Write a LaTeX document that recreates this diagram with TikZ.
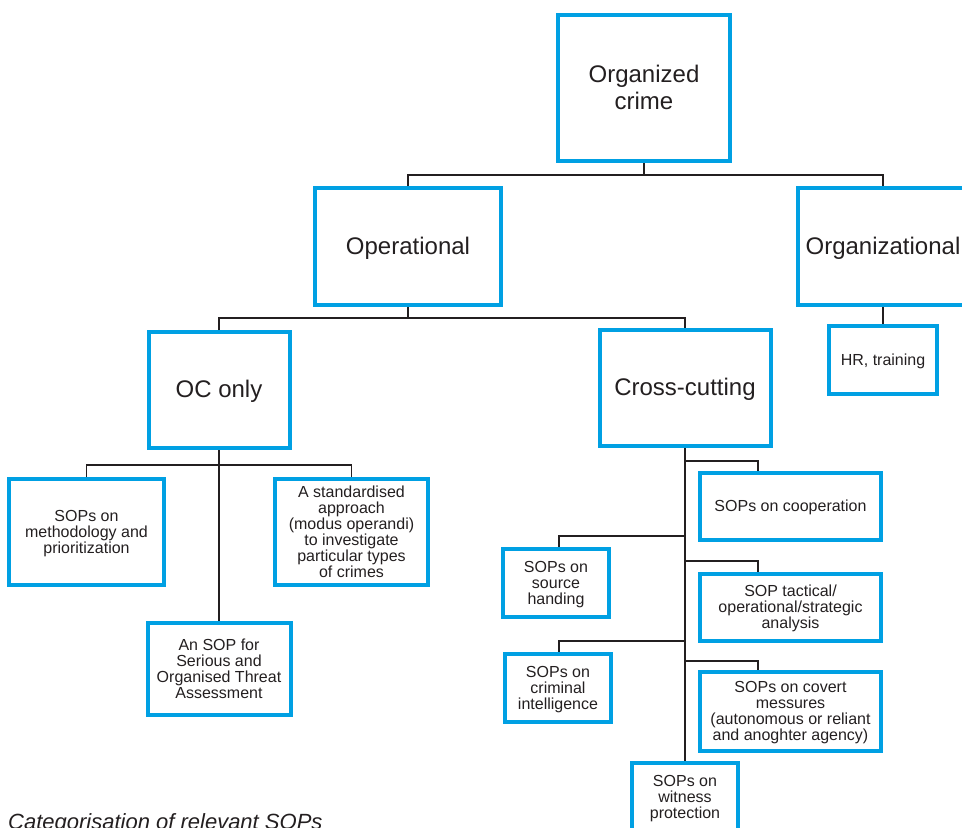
\documentclass[tikz,border=0pt]{standalone}
\usepackage{fontspec}
\setmainfont{Liberation Sans}
\definecolor{ocblue}{RGB}{0,160,227}
\definecolor{ink}{RGB}{35,31,32}
\begin{document}
\begin{tikzpicture}[x=1pt,y=-1pt,
  box/.style={draw=ocblue, line width=4pt, align=center, inner sep=2pt, text=ink},
  wh/.style 2 args={minimum width=#1pt-4pt, minimum height=#2pt-4pt},
  big/.style={font=\fontsize{24}{27}\selectfont, text depth=2pt},
  small/.style={font=\fontsize{16}{16}\selectfont, text depth=1pt},
  conn/.style={draw=ink, line width=1.5pt}]
\useasboundingbox (0,0) rectangle (962,828);
\clip (0,0) rectangle (962,828);

% level 0-1
\node[box,big,wh={176}{150}] (top) at (644,88) {Organized\\crime};
\node[box,big,wh={190}{121}] (oper) at (408,246.5) {Operational};
\node[box,big,wh={174}{121}] (org) at (883,246.5) {Organizational};
% level 2
\node[box,big,wh={145}{120}] (oc) at (219,390) {OC only};
\node[box,big,wh={175}{120}] (cross) at (685,388) {Cross-cutting};
\node[box,small,wh={112}{72}] (hr) at (883,360) {HR, training};
% OC only children
\node[box,small,wh={159}{110}] (meth) at (86.5,532) {SOPs on\\methodology and\\prioritization};
\node[box,small,wh={157}{110}] (stand) at (351.5,532) {A standardised\\approach\\(modus operandi)\\to investigate\\particular types\\of crimes};
\node[box,small,wh={147}{96}] (ansop) at (219,669) {An SOP for\\Serious and\\Organised Threat\\Assessment};
% Cross-cutting children
\node[box,small,wh={185}{71}] (coop) at (790.5,506.5) {SOPs on cooperation};
\node[box,small,wh={110}{72}] (source) at (556,583) {SOPs on\\source\\handing};
\node[box,small,wh={185}{71}] (tact) at (790.5,607.5) {SOP tactical/\\operational/strategic\\analysis};
\node[box,small,wh={110}{72}] (crim) at (558,688) {SOPs on\\criminal\\intelligence};
\node[box,small,wh={185}{83}] (covert) at (790.5,711.5) {SOPs on covert\\messures\\(autonomous or reliant\\and anoghter agency)};
\node[box,small,wh={110}{72}] (witness) at (685,797) {SOPs on\\witness\\protection};

% caption
\node[anchor=base west, inner sep=0pt, text=ink, font=\fontsize{22}{22}\selectfont\itshape] (cap) at (8,829) {Categorisation of relevant SOPs};

% connectors
\coordinate (j1) at (644,175);
\draw[conn] (top.south) -- (j1);
\draw[conn] (oper.north) |- (j1) -| (org.north);
\coordinate (j2) at (408,318);
\draw[conn] (oper.south) -- (j2);
\draw[conn] (oc.north) |- (j2) -| (cross.north);
\draw[conn] (org.south) -- (hr.north);
\coordinate (j3) at (219,465);
\draw[conn] (oc.south) -- (ansop.north);
\draw[conn] (meth.north) |- (j3) -| (stand.north);
% cross trunk and branches
\draw[conn] (cross.south) -- (witness.north);
\coordinate (b1) at (685,461);
\coordinate (b2) at (685,536);
\coordinate (b3) at (685,561);
\coordinate (b4) at (685,641);
\coordinate (b5) at (685,661);
\draw[conn] (b1) -| (coop.north -| 758,0);
\draw[conn] (b2) -| (source.north -| 559,0);
\draw[conn] (b3) -| (tact.north -| 758,0);
\draw[conn] (b4) -| (crim.north -| 559,0);
\draw[conn] (b5) -| (covert.north -| 758,0);
\end{tikzpicture}
\end{document}
